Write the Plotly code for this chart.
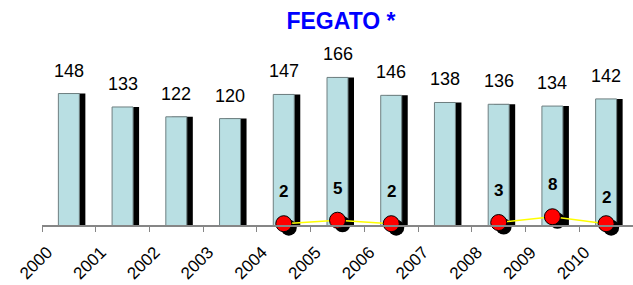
import plotly.graph_objects as go

# ---- data ----
years = [2000, 2001, 2002, 2003, 2004, 2005, 2006, 2007, 2008, 2009, 2010]
year_labels = ["2000", "2001", "2002", "2003", "2004", "2005", "2006", "2007", "2008", "2009", "2010"]
totals = [148, 133, 122, 120, 147, 166, 146, 138, 136, 134, 142]
small = [None, None, None, None, 2, 5, 2, None, 3, 8, 2]
title_text = "FEGATO *"

# ---- style / geometry (pixels) ----
W, H = 633, 285
ML, MR, MT, MB = 42, 0, 47, 40        # plot area extends below the axis line
AXIS_Y = 226                           # pixel row of the category axis line
plot_w = W - ML - MR
plot_h = H - MT - MB
below = (H - MB) - AXIS_Y              # pixels of plot area under the axis line
axis_pos = below / plot_h              # axis line position in paper units
x_lo, x_hi = years[0] - 0.5, years[-1] + 0.5
px_per_x = plot_w / (x_hi - x_lo)
px_per_y1 = 0.895                      # primary (totals) scale
px_per_y2 = 1.155                      # secondary (small counts) scale

bar_fill = "#B9DFE3"
bar_edge = "#6E7F80"
axis_col = "#868686"
font_fam = "Arial, Liberation Sans, sans-serif"
bar_w = 21 / px_per_x

BAR_SH_DX, BAR_SH_DY = 6, 3
MK_SH_DX, MK_SH_DY = 5, 4

def yrange(ppu, shift_px=0):
    lo = -(below - shift_px) / ppu
    return [lo, lo + plot_h / ppu]

def xrange_(shift_px=0):
    d = shift_px / px_per_x
    return [x_lo - d, x_hi - d]

fig = go.Figure()

# bar shadows (x, y) -- shifted right/down via axis ranges
fig.add_trace(go.Bar(x=years, y=totals, width=bar_w, base=BAR_SH_DY / px_per_y1,
                     marker=dict(color="black", line=dict(width=0)),
                     xaxis="x", yaxis="y", hoverinfo="skip", showlegend=False))
# light bars (x2, y2)
fig.add_trace(go.Bar(x=years, y=totals, width=bar_w,
                     marker=dict(color=bar_fill, line=dict(color=bar_edge, width=1)),
                     xaxis="x2", yaxis="y2", showlegend=False))
# marker shadows (x3, y3) -- shifted via axis ranges
fig.add_trace(go.Scatter(x=years, y=small, mode="markers",
                         marker=dict(size=16, color="black", line=dict(width=0)),
                         xaxis="x3", yaxis="y3", cliponaxis=False, hoverinfo="skip", showlegend=False))
# line + markers (x4, y4)
fig.add_trace(go.Scatter(x=years, y=small, mode="lines+markers", connectgaps=False,
                         line=dict(color="#FFFF00", width=1.5),
                         marker=dict(size=16, color="#FF0000", line=dict(color="black", width=1)),
                         xaxis="x4", yaxis="y4", cliponaxis=False, showlegend=False))

annotations = []
for yr, v in zip(years, totals):
    annotations.append(dict(x=yr, y=v, xref="x2", yref="y2", text=str(v), showarrow=False,
                            yshift=23, yanchor="middle",
                            font=dict(family=font_fam, size=18, color="black")))
for yr, v in zip(years, small):
    if v is None:
        continue
    annotations.append(dict(x=yr, y=v, xref="x4", yref="y4", text="<b>%d</b>" % v, showarrow=False,
                            yshift=26 if yr == years[-1] else 32, yanchor="middle",
                            font=dict(family=font_fam, size=17, color="black")))

hidden = dict(visible=False, fixedrange=True, automargin=False)
fig.update_layout(
    width=W, height=H,
    margin=dict(l=ML, r=MR, t=MT, b=MB, pad=0, autoexpand=False),
    paper_bgcolor="white", plot_bgcolor="rgba(0,0,0,0)",
    barmode="overlay",
    title=dict(text="<b>%s</b>" % title_text, x=341 / W, xref="container", xanchor="center",
               y=1 - 21 / H, yref="container", yanchor="middle",
               font=dict(family=font_fam, size=23, color="#0000FF")),
    xaxis=dict(hidden, range=xrange_(BAR_SH_DX), domain=[0, 1]),
    yaxis=dict(hidden, range=yrange(px_per_y1, BAR_SH_DY), domain=[0, 1]),
    xaxis2=dict(overlaying="x", range=xrange_(), anchor="free", position=axis_pos,
                showgrid=False, zeroline=False,
                showline=True, linecolor=axis_col, linewidth=1.5,
                ticks="outside", ticklen=5, tickcolor=axis_col, tickwidth=1,
                tickvals=[y - 0.5 for y in years] + [years[-1] + 0.5],
                showticklabels=False, fixedrange=True, automargin=False),
    yaxis2=dict(hidden, overlaying="y", range=yrange(px_per_y1)),
    xaxis3=dict(hidden, overlaying="x", range=xrange_(MK_SH_DX)),
    yaxis3=dict(hidden, overlaying="y", range=yrange(px_per_y2, MK_SH_DY)),
    xaxis4=dict(overlaying="x", range=xrange_(), anchor="free", position=axis_pos,
                showgrid=False, zeroline=False, showline=False,
                ticks="", tickvals=[y - 0.40 for y in years], ticktext=year_labels,
                tickangle=-45, tickfont=dict(family=font_fam, size=17, color="black"),
                ticklabelstandoff=12, fixedrange=True, automargin=False),
    yaxis4=dict(hidden, overlaying="y", range=yrange(px_per_y2)),
    annotations=annotations,
)

fig.write_html("out.html", config={"displayModeBar": False},
               post_script="document.body.style.margin='0px';document.body.style.overflow='hidden';")
